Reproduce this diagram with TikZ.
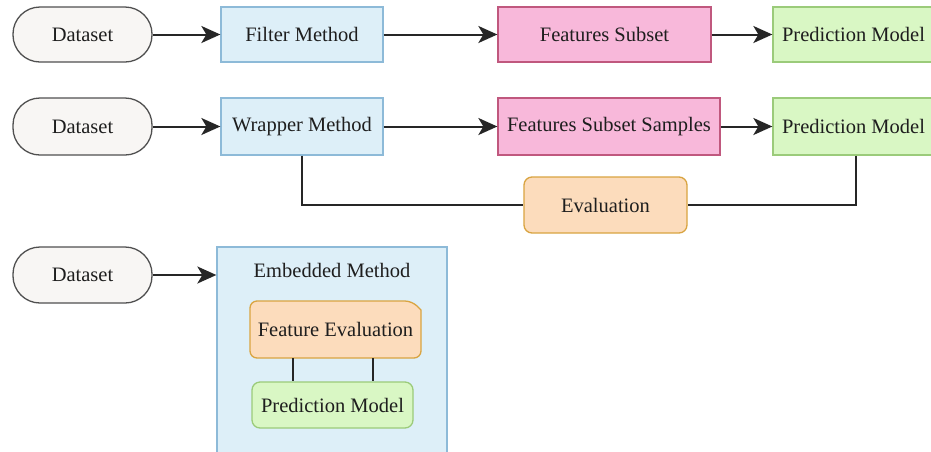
\documentclass[tikz,border=0pt]{standalone}
\usepackage{fontspec}
\setmainfont{Liberation Serif}
\usetikzlibrary{arrows.meta,calc}
\definecolor{dsfill}{HTML}{F8F6F4}
\definecolor{dsdraw}{HTML}{505050}
\definecolor{bluefill}{HTML}{DDEFF8}
\definecolor{bluedraw}{HTML}{8DBAD8}
\definecolor{pinkfill}{HTML}{F8B8DA}
\definecolor{pinkdraw}{HTML}{C0587E}
\definecolor{greenfill}{HTML}{D9F7C4}
\definecolor{greendraw}{HTML}{9BCB7A}
\definecolor{orangefill}{HTML}{FCDCBC}
\definecolor{orangedraw}{HTML}{D9A441}
\definecolor{txt}{HTML}{1E1E1E}
\begin{document}
\begin{tikzpicture}[x=1pt,y=-1pt,
  every node/.style={font=\fontsize{20.5}{24}\selectfont, text=txt, inner sep=2pt},
  dsbox/.style={draw=dsdraw, fill=dsfill, line width=1.3pt, rounded corners=27pt, minimum width=139pt, minimum height=55pt},
  bluebox/.style={draw=bluedraw, fill=bluefill, line width=1.3pt, minimum width=162pt, minimum height=55pt},
  pinkbox/.style={draw=pinkdraw, fill=pinkfill, line width=1.3pt, minimum height=55pt},
  greenbox/.style={draw=greendraw, fill=greenfill, line width=1.3pt, minimum width=161pt, minimum height=55pt},
  orangebox/.style={draw=orangedraw, fill=orangefill, line width=1.3pt, rounded corners=8pt},
  conn/.style={draw=black!85, line width=2pt},
  arr/.style={conn, -{Stealth[length=19pt,width=17pt,inset=5pt]}}
]
\useasboundingbox (0,0) rectangle (931,451);
\clip (0,0) rectangle (931,451);
\fill[white] (0,0) rectangle (931,451);

% Row 1
\node[dsbox] (d1) at (82.5,34.5) {Dataset};
\node[bluebox] (filter) at (302,34.5) {Filter Method};
\node[pinkbox, minimum width=213pt] (fs) at (604.5,34.5) {Features Subset};
\node[greenbox] (pm1) at (853.5,34.5) {Prediction Model};
\draw[arr] (d1) -- (filter);
\draw[arr] (filter) -- (fs);
\draw[arr] (fs) -- (pm1);

% Row 2
\node[dsbox, minimum height=57pt] (d2) at (82.5,126.5) {Dataset};
\node[bluebox, minimum height=57pt] (wrap) at (302,126.5) {Wrapper Method};
\node[pinkbox, minimum width=222pt, minimum height=57pt] (fss) at (609,126.5) {Features Subset Samples};
\node[greenbox, minimum height=57pt] (pm2) at (853.5,126.5) {Prediction Model};
\node[orangebox, minimum width=163pt, minimum height=56pt] (eval) at (605.5,205) {Evaluation};
\draw[arr] (d2) -- (wrap);
\draw[arr] (wrap) -- (fss);
\draw[arr] (fss) -- (pm2);
\coordinate (pmb) at ([xshift=2.5pt]pm2.south);
\draw[conn] (wrap.south) |- (eval.west);
\draw[conn] (pmb) |- (eval.east);

% Row 3
\node[dsbox, minimum height=56pt] (d3) at (82.5,275) {Dataset};
\node[draw=bluedraw, fill=bluefill, line width=1.3pt, minimum width=230pt, minimum height=213pt] (emb) at (332,353.5) {};
\node (embl) at (332,270) {Embedded Method};
\draw[arr] (d3) -- (d3.east -| emb.west);

\draw[draw=orangedraw, fill=orangefill, line width=1.3pt, rounded corners=7pt]
  (250,301) -- (412,301) [sharp corners] -- (421,310) [rounded corners=7pt]
  -- (421,358) -- (250,358) -- cycle;
\node[minimum width=171pt, minimum height=57pt] (fe) at (335.5,329.5) {Feature Evaluation};
\node[draw=greendraw, fill=greenfill, line width=1.3pt, rounded corners=8pt, minimum width=161pt, minimum height=46pt] (pm3) at (332.5,405) {Prediction Model};
\coordinate (l1) at ([xshift=-42.5pt]fe.south);
\coordinate (l2) at ([xshift=37.5pt]fe.south);
\draw[conn] (l1) -- (l1 |- pm3.north);
\draw[conn] (l2) -- (l2 |- pm3.north);
\end{tikzpicture}
\end{document}
